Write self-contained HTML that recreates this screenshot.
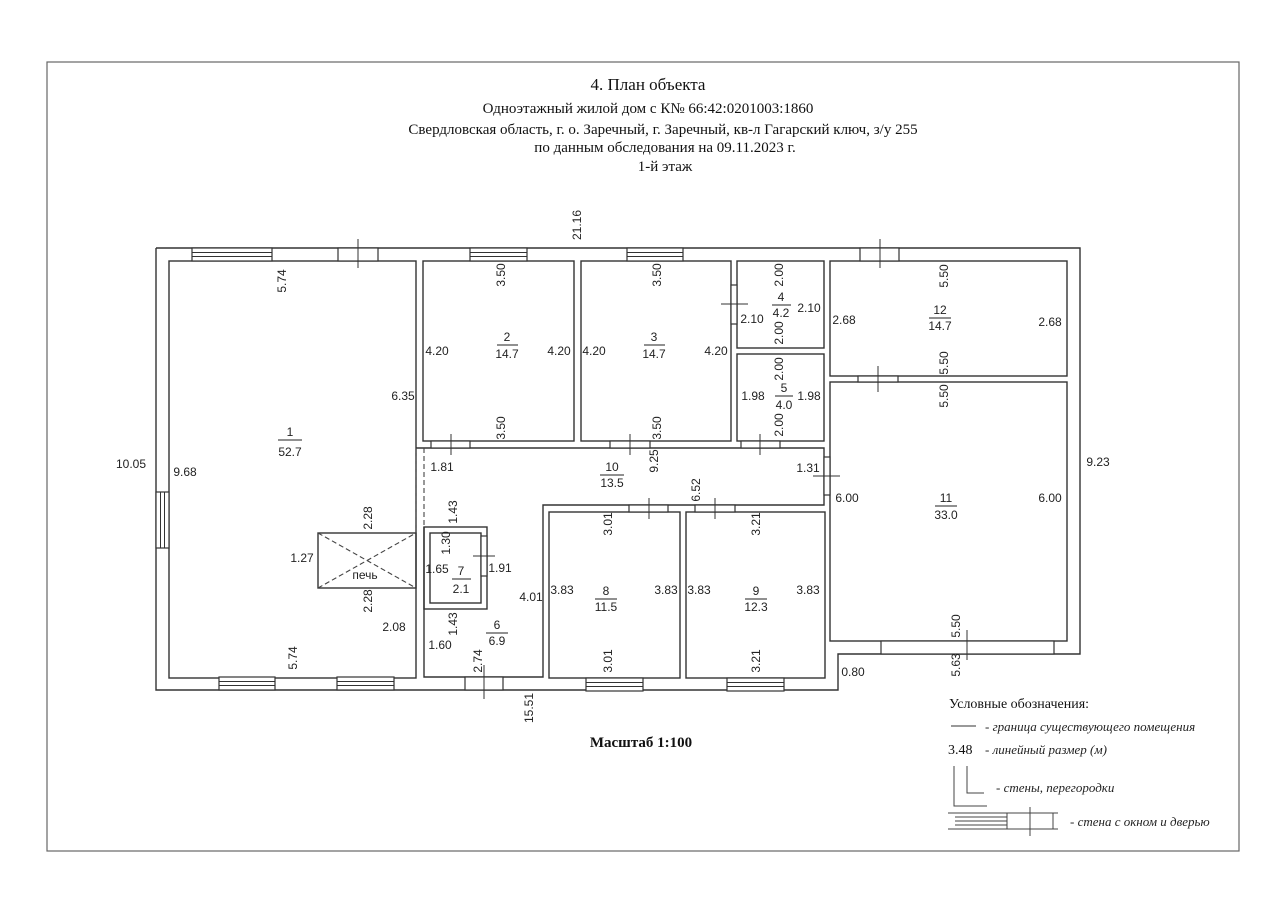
<!DOCTYPE html>
<html><head><meta charset="utf-8"><style>
html,body{margin:0;padding:0;background:#fff;}
svg{display:block;}
.d{font-family:"Liberation Sans",sans-serif;font-size:12px;fill:#222;}
.t{font-family:"Liberation Serif",serif;fill:#111;}
.i{font-family:"Liberation Serif",serif;font-style:italic;font-size:13px;fill:#222;}
</style></head><body>
<svg width="1280" height="904" viewBox="0 0 1280 904" xmlns="http://www.w3.org/2000/svg">
<rect x="47" y="62" width="1192" height="789" fill="none" stroke="#666" stroke-width="1.2"/>
<g class="t" text-anchor="middle">
<text x="648" y="90" font-size="17">4. План объекта</text>
<text x="648" y="113" font-size="15">Одноэтажный жилой дом с К№ 66:42:0201003:1860</text>
<text x="663" y="134" font-size="15">Свердловская область, г. о. Заречный, г. Заречный, кв-л Гагарский ключ, з/у 255</text>
<text x="665" y="152" font-size="15">по данным обследования на 09.11.2023 г.</text>
<text x="665" y="171" font-size="15">1-й этаж</text>
<text x="641" y="747" font-size="15" font-weight="bold">Масштаб 1:100</text>
</g>
<g fill="none" stroke="#333" stroke-width="1.4">
<!-- outer -->
<polyline points="156,248 1080,248 1080,654 838,654 838,690 156,690 156,248"/>
<!-- rooms -->
<rect x="169" y="261" width="247" height="417"/>
<rect x="423" y="261" width="151" height="180"/>
<rect x="581" y="261" width="150" height="180"/>
<rect x="737" y="261" width="87" height="87"/>
<rect x="737" y="354" width="87" height="87"/>
<rect x="830" y="261" width="237" height="115"/>
<rect x="830" y="382" width="237" height="259"/>
<rect x="549" y="512" width="131" height="166"/>
<rect x="686" y="512" width="139" height="166"/>
<polyline points="424,527 424,677 543,677 543,505 824,505 824,448 416,448"/>
<rect x="424" y="527" width="63" height="82"/>
<rect x="430" y="533" width="51" height="70"/>
<rect x="318" y="533" width="98" height="55"/>
</g>
<g stroke="#444" stroke-width="1.1" stroke-dasharray="5,3" fill="none">
<line x1="416" y1="448" x2="416" y2="533"/><line x1="424" y1="448" x2="424" y2="527"/>
<line x1="318" y1="533" x2="416" y2="588"/><line x1="318" y1="588" x2="416" y2="533"/>
</g>
<g fill="#fff" stroke="#333" stroke-width="1.2">
<!-- windows horizontal in top wall -->
<rect x="192" y="248" width="80" height="13"/><rect x="470" y="248" width="57" height="13"/><rect x="627" y="248" width="56" height="13"/>
<rect x="219" y="677" width="56" height="13"/><rect x="337" y="677" width="57" height="13"/>
<rect x="586" y="678" width="57" height="13"/><rect x="727" y="678" width="57" height="13"/>
<rect x="881" y="641" width="173" height="13"/>
<rect x="156" y="492" width="13" height="56"/>
<!-- doors -->
<rect x="338" y="248" width="40" height="13"/><rect x="860" y="248" width="39" height="13"/>
<rect x="431" y="441" width="39" height="7"/><rect x="610" y="441" width="40" height="7"/><rect x="741" y="441" width="39" height="7"/>
<rect x="858" y="376" width="40" height="6"/>
<rect x="731" y="285" width="6" height="39"/>
<rect x="824" y="457" width="6" height="38"/>
<rect x="629" y="505" width="39" height="7"/><rect x="695" y="505" width="40" height="7"/>
<rect x="465" y="677" width="38" height="13"/>
<rect x="481" y="536" width="6" height="40"/>
</g>
<g stroke="#333" stroke-width="1">
<line x1="192" y1="252.5" x2="272" y2="252.5"/><line x1="192" y1="256.5" x2="272" y2="256.5"/>
<line x1="470" y1="252.5" x2="527" y2="252.5"/><line x1="470" y1="256.5" x2="527" y2="256.5"/>
<line x1="627" y1="252.5" x2="683" y2="252.5"/><line x1="627" y1="256.5" x2="683" y2="256.5"/>
<line x1="219" y1="681.5" x2="275" y2="681.5"/><line x1="219" y1="685.5" x2="275" y2="685.5"/>
<line x1="337" y1="681.5" x2="394" y2="681.5"/><line x1="337" y1="685.5" x2="394" y2="685.5"/>
<line x1="586" y1="682.5" x2="643" y2="682.5"/><line x1="586" y1="686.5" x2="643" y2="686.5"/>
<line x1="727" y1="682.5" x2="784" y2="682.5"/><line x1="727" y1="686.5" x2="784" y2="686.5"/>
<line x1="160.5" y1="492" x2="160.5" y2="548"/><line x1="164.5" y1="492" x2="164.5" y2="548"/>
<!-- door ticks -->
<line x1="358" y1="239" x2="358" y2="268"/><line x1="880" y1="239" x2="880" y2="268"/>
<line x1="451" y1="434" x2="451" y2="455"/><line x1="630" y1="434" x2="630" y2="455"/><line x1="760" y1="434" x2="760" y2="455"/>
<line x1="878" y1="366" x2="878" y2="392"/>
<line x1="721" y1="304" x2="748" y2="304"/>
<line x1="813" y1="476" x2="840" y2="476"/>
<line x1="649" y1="498" x2="649" y2="519"/><line x1="715" y1="498" x2="715" y2="519"/>
<line x1="484" y1="665" x2="484" y2="699"/>
<line x1="473" y1="556" x2="495" y2="556"/>
<line x1="967" y1="630" x2="967" y2="660"/>
</g>
<g class="d" text-anchor="middle">
<text x="131" y="468">10.05</text><text x="185" y="476">9.68</text>
<text x="290" y="436">1</text><line x1="278" y1="440" x2="302" y2="440" stroke="#222"/><text x="290" y="456">52.7</text>
<text x="403" y="400">6.35</text>
<text x="437" y="355">4.20</text><text x="559" y="355">4.20</text><text x="507" y="341">2</text><line x1="497" y1="345" x2="518" y2="345" stroke="#222"/><text x="507" y="358">14.7</text>
<text x="594" y="355">4.20</text><text x="716" y="355">4.20</text><text x="654" y="341">3</text><line x1="644" y1="345" x2="665" y2="345" stroke="#222"/><text x="654" y="358">14.7</text>
<text x="781" y="301">4</text><line x1="772" y1="305" x2="791" y2="305" stroke="#222"/><text x="781" y="317">4.2</text><text x="809" y="312">2.10</text><text x="752" y="323">2.10</text>
<text x="753" y="400">1.98</text><text x="809" y="400">1.98</text><text x="784" y="392">5</text><line x1="775" y1="396" x2="793" y2="396" stroke="#222"/><text x="784" y="409">4.0</text>
<text x="844" y="324">2.68</text><text x="1050" y="326">2.68</text><text x="940" y="314">12</text><line x1="929" y1="318" x2="951" y2="318" stroke="#222"/><text x="940" y="330">14.7</text>
<text x="847" y="502">6.00</text><text x="1050" y="502">6.00</text><text x="946" y="502">11</text><line x1="935" y1="506" x2="957" y2="506" stroke="#222"/><text x="946" y="519">33.0</text>
<text x="1098" y="466">9.23</text>
<text x="442" y="471">1.81</text><text x="612" y="471">10</text><line x1="600" y1="475" x2="624" y2="475" stroke="#222"/><text x="612" y="487">13.5</text><text x="808" y="472">1.31</text>
<text x="302" y="562">1.27</text><text x="365" y="579">печь</text>
<text x="437" y="573">1.65</text><text x="461" y="575">7</text><line x1="452" y1="579" x2="471" y2="579" stroke="#222"/><text x="461" y="593">2.1</text><text x="500" y="572">1.91</text>
<text x="531" y="601">4.01</text><text x="497" y="629">6</text><line x1="486" y1="633" x2="508" y2="633" stroke="#222"/><text x="497" y="645">6.9</text>
<text x="440" y="649">1.60</text><text x="394" y="631">2.08</text>
<text x="562" y="594">3.83</text><text x="666" y="594">3.83</text><text x="606" y="595">8</text><line x1="595" y1="599" x2="617" y2="599" stroke="#222"/><text x="606" y="611">11.5</text>
<text x="699" y="594">3.83</text><text x="808" y="594">3.83</text><text x="756" y="595">9</text><line x1="745" y1="599" x2="767" y2="599" stroke="#222"/><text x="756" y="611">12.3</text>
<text x="853" y="676">0.80</text>
</g>
<g class="d" text-anchor="middle" dominant-baseline="middle">
<text transform="translate(578,225) rotate(-90)">21.16</text>
<text transform="translate(283,281) rotate(-90)">5.74</text>
<text transform="translate(294,658) rotate(-90)">5.74</text>
<text transform="translate(502,275) rotate(-90)">3.50</text>
<text transform="translate(502,428) rotate(-90)">3.50</text>
<text transform="translate(658,275) rotate(-90)">3.50</text>
<text transform="translate(658,428) rotate(-90)">3.50</text>
<text transform="translate(780,275) rotate(-90)">2.00</text>
<text transform="translate(780,333) rotate(-90)">2.00</text>
<text transform="translate(780,369) rotate(-90)">2.00</text>
<text transform="translate(780,425) rotate(-90)">2.00</text>
<text transform="translate(945,276) rotate(-90)">5.50</text>
<text transform="translate(945,363) rotate(-90)">5.50</text>
<text transform="translate(945,396) rotate(-90)">5.50</text>
<text transform="translate(957,626) rotate(-90)">5.50</text>
<text transform="translate(957,665) rotate(-90)">5.63</text>
<text transform="translate(655,461) rotate(-90)">9.25</text>
<text transform="translate(697,490) rotate(-90)">6.52</text>
<text transform="translate(454,512) rotate(-90)">1.43</text>
<text transform="translate(369,518) rotate(-90)">2.28</text>
<text transform="translate(369,601) rotate(-90)">2.28</text>
<text transform="translate(447,543) rotate(-90)">1.30</text>
<text transform="translate(454,624) rotate(-90)">1.43</text>
<text transform="translate(479,661) rotate(-90)">2.74</text>
<text transform="translate(530,708) rotate(-90)">15.51</text>
<text transform="translate(609,524) rotate(-90)">3.01</text>
<text transform="translate(609,661) rotate(-90)">3.01</text>
<text transform="translate(757,524) rotate(-90)">3.21</text>
<text transform="translate(757,661) rotate(-90)">3.21</text>
</g>
<!-- legend -->
<text class="t" x="949" y="708" font-size="14">Условные обозначения:</text>
<line x1="951" y1="726" x2="976" y2="726" stroke="#333"/>
<text class="i" x="985" y="731">- граница существующего помещения</text>
<text class="t" x="948" y="754" font-size="14">3.48</text>
<text class="i" x="985" y="754">- линейный размер (м)</text>
<g fill="none" stroke="#444" stroke-width="1">
<polyline points="954,766 954,806 987,806"/>
<polyline points="967,766 967,793 984,793"/>
<line x1="948" y1="813" x2="1058" y2="813"/><line x1="948" y1="829" x2="1058" y2="829"/>
<line x1="955" y1="817" x2="1007" y2="817"/><line x1="955" y1="821" x2="1007" y2="821"/><line x1="955" y1="825" x2="1007" y2="825"/>
<line x1="1007" y1="813" x2="1007" y2="829"/><line x1="1053" y1="813" x2="1053" y2="829"/>
<line x1="1030" y1="807" x2="1030" y2="836"/>
</g>
<text class="i" x="996" y="792">- стены, перегородки</text>
<text class="i" x="1070" y="826">- стена с окном и дверью</text>
</svg>
</body></html>
